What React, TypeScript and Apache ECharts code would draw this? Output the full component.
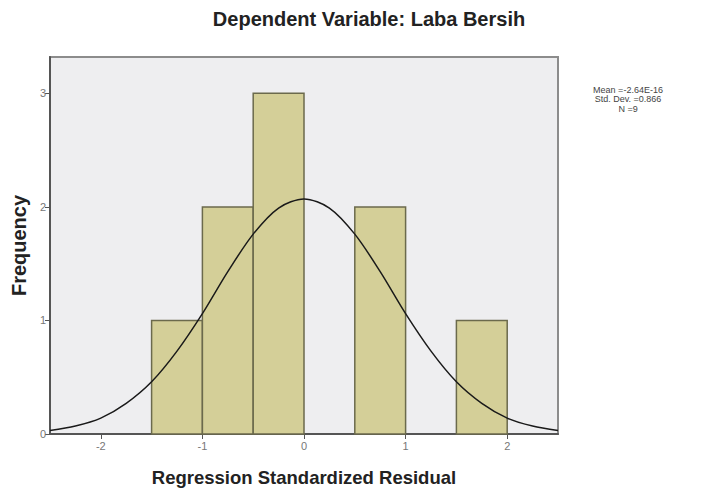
import React, { useEffect, useRef } from "react";
import * as echarts from "echarts";

// Histogram bins (lower edge, upper edge) and frequencies
const binLower = [-1.5, -1.0, -0.5, 0.5, 1.5];
const binUpper = [-1.0, -0.5, 0.0, 1.0, 2.0];
const frequencies = [1, 2, 3, 2, 1];

// Normal curve points
const curveX = [-2.5, -2.25, -2.0, -1.75, -1.5, -1.25, -1.0, -0.75, -0.5, -0.25, 0, 0.25, 0.5, 0.75, 1.0, 1.25, 1.5, 1.75, 2.0, 2.25, 2.5];
const curveY = [0.03, 0.07, 0.14, 0.27, 0.46, 0.73, 1.06, 1.43, 1.76, 1.99, 2.07, 1.99, 1.76, 1.43, 1.06, 0.73, 0.46, 0.27, 0.14, 0.07, 0.03];

const xTicks = [-2, -1, 0, 1, 2];
const yTicks = [0, 1, 2, 3];

const titleText = "Dependent Variable: Laba Bersih";
const statsLines = ["Mean =-2.64E-16", "Std. Dev. =0.866", "N =9"];

const FONT = "'Liberation Sans', Arial, sans-serif";

export default function App() {
  const ref = useRef<HTMLDivElement>(null);

  useEffect(() => {
    if (!ref.current) return;
    const chart = echarts.init(ref.current, null, { renderer: "svg" });
    const barData = binLower.map((lo, i) => [lo, binUpper[i], frequencies[i]]);
    const curveData = curveX.map((x, i) => [x, curveY[i]]);

    chart.setOption({
      animation: false,
      backgroundColor: "#ffffff",
      textStyle: { fontFamily: FONT },
      grid: {
        left: 50,
        right: 143,
        top: 57,
        bottom: 62,
        show: true,
        backgroundColor: "#eeeef0",
        borderColor: "#8c8c8c",
        borderWidth: 2,
      },
      graphic: [
        {
          type: "text",
          x: 369,
          y: 19,
          style: {
            text: titleText,
            fontFamily: FONT,
            fontSize: 20,
            fontWeight: "bold",
            fill: "#222",
            align: "center",
            verticalAlign: "middle",
          },
        },
        {
          type: "text",
          x: 628,
          y: 99,
          style: {
            text: statsLines.join("\n"),
            fontFamily: FONT,
            fontSize: 9,
            lineHeight: 9.5,
            fill: "#444",
            align: "center",
            verticalAlign: "middle",
          },
        },
      ],
      xAxis: {
        type: "value",
        min: -2.5,
        max: 2.5,
        name: "Regression Standardized Residual",
        nameLocation: "middle",
        nameGap: 34,
        nameTextStyle: { fontFamily: FONT, fontSize: 18.5, fontWeight: "bold", color: "#222" },
        axisLine: { show: true, onZero: false, lineStyle: { color: "#555", width: 2 } },
        axisTick: { show: true, length: 5, customValues: xTicks, lineStyle: { color: "#555" } },
        axisLabel: { customValues: xTicks, color: "#777", fontSize: 11, margin: 6, fontFamily: FONT },
        splitLine: { show: false },
      },
      yAxis: {
        type: "value",
        min: 0,
        max: 3.32,
        name: "Frequency",
        nameLocation: "middle",
        nameGap: 19,
        nameTextStyle: { fontFamily: FONT, fontSize: 20, fontWeight: "bold", color: "#222" },
        axisLine: { show: true, onZero: false, lineStyle: { color: "#555", width: 2 } },
        axisTick: { show: true, length: 5, customValues: yTicks, lineStyle: { color: "#555" } },
        axisLabel: { customValues: yTicks, color: "#777", fontSize: 11, margin: 4, fontFamily: FONT },
        splitLine: { show: false },
      },
      series: [
        {
          type: "custom",
          data: barData,
          encode: { x: [0, 1], y: 2 },
          z: 2,
          renderItem: (params: any, api: any) => {
            const p0 = api.coord([api.value(0), api.value(2)]);
            const p1 = api.coord([api.value(1), 0]);
            return {
              type: "rect",
              shape: { x: p0[0], y: p0[1], width: p1[0] - p0[0], height: p1[1] - p0[1] },
              style: { fill: "#d4cf98", stroke: "#6b6a4c", lineWidth: 1.5 },
            };
          },
        },
        {
          type: "line",
          data: curveData,
          smooth: 0.3,
          showSymbol: false,
          z: 3,
          lineStyle: { color: "#1a1a1a", width: 1.5 },
        },
      ],
    });
    return () => chart.dispose();
  }, []);

  return (
    <div
      ref={ref}
      style={{ position: "absolute", left: 0, top: 0, width: 701, height: 496 }}
    />
  );
}
